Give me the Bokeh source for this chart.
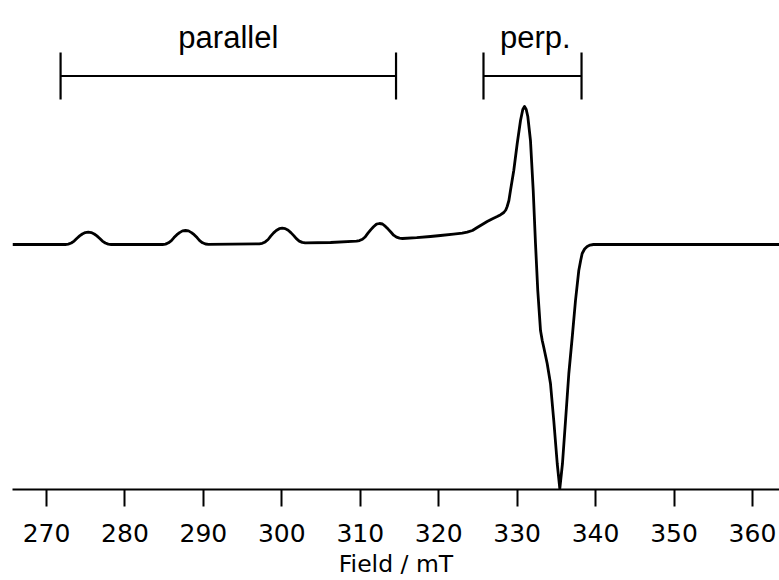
from bokeh.plotting import figure
from bokeh.models import Range1d, FixedTicker
from bokeh.core.properties import value
from bokeh.embed import file_html
from bokeh.resources import INLINE

# EPR spectrum (first derivative), field in mT, intensity in arbitrary units
field = [265.66,
         272.39, 272.77, 273.15, 273.52, 273.85, 274.22, 274.56, 274.94, 275.32,
         275.70, 276.08, 276.42, 276.79, 277.12, 277.49, 277.87, 278.25,
         284.79, 285.17, 285.55, 285.92, 286.25, 286.62, 286.96, 287.34, 287.72,
         288.10, 288.48, 288.82, 289.19, 289.52, 289.89, 290.27, 290.65,
         297.12, 297.50, 297.88, 298.25, 298.58, 298.95, 299.29, 299.67, 300.05,
         300.43, 300.81, 301.15, 301.52, 301.85, 302.22, 302.60, 302.98,
         306.21,
         309.52, 309.90, 310.28, 310.65, 310.98, 311.35, 311.69, 312.07, 312.45,
         312.83, 313.21, 313.55, 313.92, 314.25, 314.62, 315.00, 315.38,
         317.20, 318.95, 320.23, 321.89, 323.00, 323.63, 324.30, 324.91, 325.55, 326.18,
         326.80, 327.46, 327.90, 328.30, 328.55, 328.73, 328.95, 329.15,
         329.57, 330.01, 330.43, 330.72, 330.94, 331.16, 331.36, 331.70, 332.05, 332.34,
         332.63, 332.98, 333.20, 333.40, 333.83, 334.25, 334.67, 335.11, 335.44, 335.78, 336.17,
         336.59, 337.02, 337.44, 337.86, 338.10, 338.29, 338.60, 338.93, 339.30, 339.73, 363.45]
intensity = [0,
             0, 0.4, 1.5, 3.4, 6, 8.6, 10.5, 11.9, 12.3,
             11.9, 10.5, 8.6, 6, 3.4, 1.5, 0.4, 0,
             0, 0.4, 1.7, 3.9, 6.9, 9.8, 11.9, 13.6, 14,
             13.6, 11.9, 9.8, 6.9, 3.9, 1.7, 0.5, 0.2,
             0.7, 1.2, 2.6, 5, 8.3, 11.6, 14, 15.8, 16.3,
             15.9, 14.2, 11.9, 8.9, 5.8, 3.4, 2.1, 1.6,
             2,
             3.3, 3.9, 5.3, 7.8, 11.3, 14.9, 17.8, 20.4, 21,
             20.5, 18.1, 15.4, 12.2, 9.3, 7.3, 6.3, 6,
             6.8, 8, 9, 10.3, 11.3, 12.3, 14, 17, 20, 23,
             25.6, 28, 29.8, 32, 34.5, 38, 44, 54,
             74, 101, 124, 135, 138, 135, 128, 104, 54, 1,
             -46, -86, -96, -103, -119, -139, -176, -219, -244, -219, -176,
             -129, -93, -56, -26, -16, -9, -4.5, -2, -0.6, 0, 0]

tick_values = [270, 280, 290, 300, 310, 320, 330, 340, 350, 360]
parallel_range = [271.79, 314.56]
perp_range = [325.71, 338.21]
region_labels = ["parallel", "perp."]

p = figure(width=779, height=580, output_backend="svg", toolbar_location=None,
           x_range=Range1d(265.66, 363.45), y_range=Range1d(-245, 244),
           y_axis_location=None,
           min_border_left=12, min_border_right=0, min_border_top=0, min_border_bottom=91)
p.outline_line_color = None
p.grid.visible = False
p.background_fill_color = "white"
p.border_fill_color = "white"

ax = p.xaxis[0]
ax.ticker = FixedTicker(ticks=tick_values)
ax.minor_tick_line_color = None
ax.major_tick_in = 0
ax.major_tick_out = 17
ax.major_tick_line_width = 2
ax.major_tick_line_color = "black"
ax.axis_line_width = 2
ax.axis_line_color = "black"
ax.major_label_text_font = "DejaVu Sans"
ax.major_label_text_font_size = "25px"
ax.major_label_text_color = "black"
ax.major_label_standoff = 17
ax.axis_label = "Field / mT"
ax.axis_label_text_font = "DejaVu Sans"
ax.axis_label_text_font_size = "23.5px"
ax.axis_label_text_font_style = "normal"
ax.axis_label_text_color = "black"
ax.axis_label_standoff = 5

p.line(field, intensity, line_width=2.8, color="black", line_join="round")

bar_y = 168.5
bar_half = 23.5
for rng in (parallel_range, perp_range):
    p.segment(x0=[rng[0], rng[0], rng[1]], y0=[bar_y, bar_y - bar_half, bar_y - bar_half],
              x1=[rng[1], rng[0], rng[1]], y1=[bar_y, bar_y + bar_half, bar_y + bar_half],
              line_color="black", line_width=2.2)

p.text(x=[(parallel_range[0] + parallel_range[1]) / 2, (perp_range[0] + perp_range[1]) / 2 + 0.35],
       y=[207, 207], text=region_labels,
       text_font=value("Liberation Sans"), text_font_size="31px",
       text_align="center", text_baseline="alphabetic", text_color="black")

open("out.html", "w").write(file_html(p, INLINE))
